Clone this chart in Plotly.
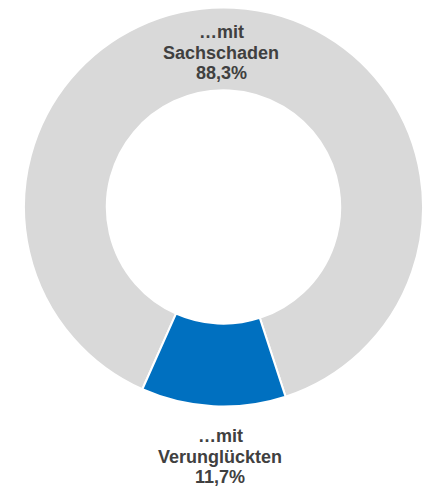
import plotly.graph_objects as go

categories = ["…mit<br>Sachschaden", "…mit<br>Verunglückten"]
values = [88.3, 11.7]
value_labels = ["88,3%", "11,7%"]
colors = ["#d9d9d9", "#0070c0"]

W, H = 424, 486

fig = go.Figure(go.Pie(
    labels=categories,
    values=values,
    sort=False,
    direction="clockwise",
    rotation=-156,
    hole=0.585,
    marker=dict(colors=colors, line=dict(color="white", width=2)),
    textinfo="none",
    hoverinfo="label+percent",
    showlegend=False,
    domain=dict(x=[24 / W, 423 / W], y=[1 - 407 / H, 1 - 7 / H]),
))

text_color = "#404040"
font = dict(family="Liberation Sans, Arial, sans-serif", size=18, color=text_color)

# label blocks: (center x px, first line y px)
blocks = [(221, 32), (220, 436)]
line_gap = 20.5
for (cx, y0), cat, val in zip(blocks, categories, value_labels):
    lines = cat.split("<br>") + [val]
    for i, ln in enumerate(lines):
        fig.add_annotation(
            x=cx / W, y=1 - (y0 + i * line_gap) / H,
            xref="paper", yref="paper",
            text="<b>" + ln + "</b>",
            showarrow=False, xanchor="center", yanchor="middle",
            font=font,
        )

fig.update_layout(
    width=W, height=H,
    margin=dict(l=0, r=0, t=0, b=0),
    paper_bgcolor="white",
    plot_bgcolor="white",
)

fig.write_html("out.html")
